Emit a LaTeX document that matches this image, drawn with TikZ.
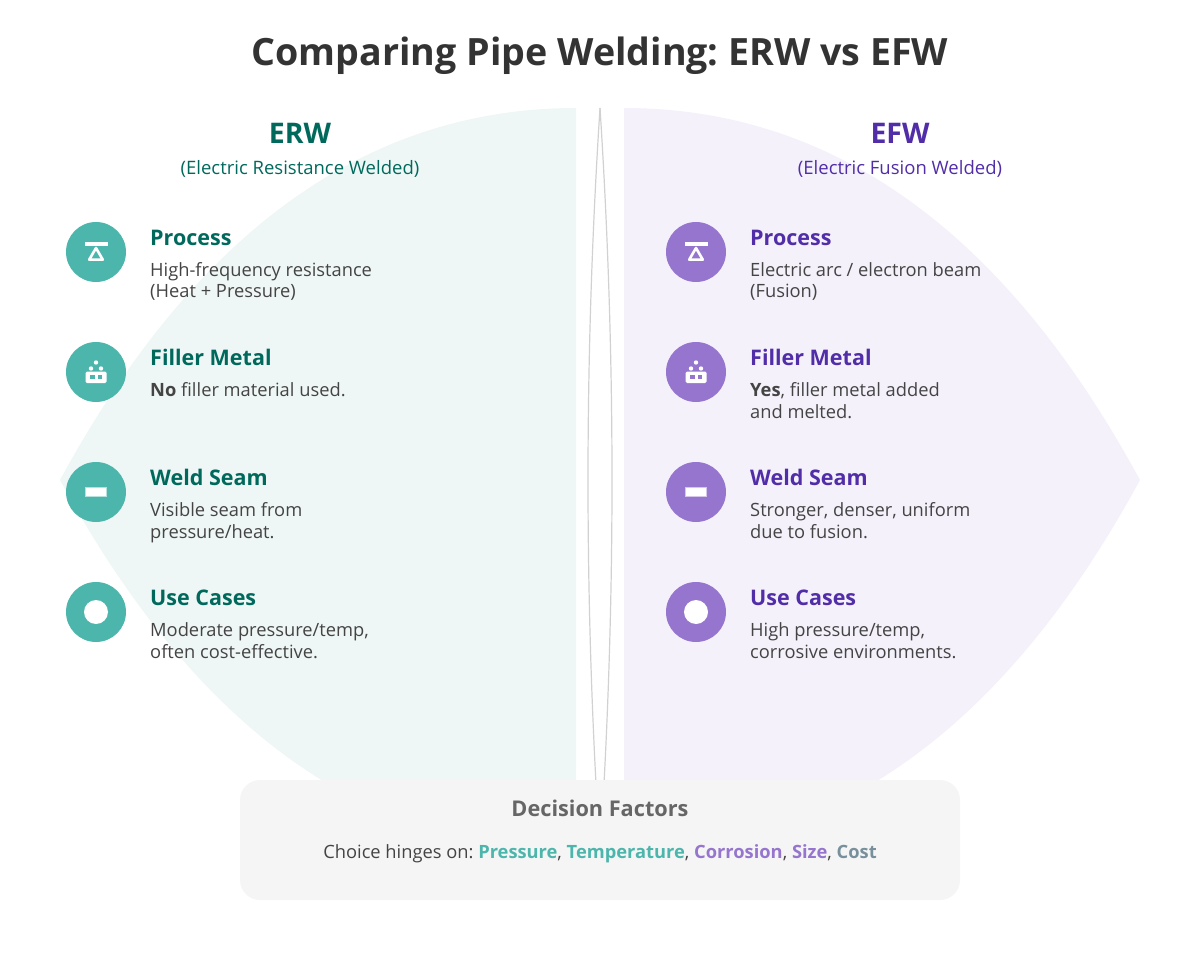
\documentclass[tikz,border=0pt]{standalone}
\usepackage{fontspec}
\setmainfont{Open Sans}
\frenchspacing
\definecolor{erwdark}{HTML}{00695C}
\definecolor{erwmid}{HTML}{4DB6AC}
\definecolor{erwpale}{HTML}{EEF7F5}
\definecolor{efwdark}{HTML}{512DA8}
\definecolor{efwmid}{HTML}{9575CD}
\definecolor{efwpale}{HTML}{F4F1FB}
\definecolor{costcol}{HTML}{78909C}
\definecolor{bodycol}{HTML}{444444}
\tikzset{
  heading/.style={anchor=base,inner sep=0pt,font=\fontsize{28.4}{28.4}\selectfont\bfseries},
  subhead/.style={anchor=base,inner sep=0pt,font=\fontsize{18.5}{18.5}\selectfont},
  rowhead/.style={anchor=base west,inner sep=0pt,font=\fontsize{21.5}{21.5}\selectfont\bfseries},
  rowtext/.style={anchor=base west,inner sep=0pt,text=bodycol,font=\fontsize{18.3}{18.3}\selectfont},
  dot/.style={circle,inner sep=0pt,minimum size=60pt},
  seamicon/.style={fill=white,draw=white,draw opacity=.6,line width=1.6pt}
}
\begin{document}
\begin{tikzpicture}[x=1pt,y=-1pt]
  \useasboundingbox (0,0) rectangle (1200,960);
  \fill[erwpale] (576,108) .. controls (366.7,108) and (194.7,232) .. (60,480) .. controls (194.7,728) and (366.7,852) .. (576,852) -- cycle;
  \fill[efwpale] (624,108) .. controls (833.3,108) and (1005.3,232) .. (1140,480) .. controls (1005.3,728) and (833.3,852) .. (624,852) -- cycle;
  \coordinate (lensTop) at (600,108);
  \coordinate (lensBot) at (600,852);
  \draw[black!18,line width=1.2pt] (lensTop) .. controls (584,356) and (584,604) .. (lensBot);
  \draw[black!18,line width=1.2pt] (lensTop) .. controls (616,356) and (616,604) .. (lensBot);
  \node[anchor=base,inner sep=0pt,text=black!80,font=\fontsize{37.6}{37.6}\selectfont\bfseries] (title) at (600,66) {Comparing Pipe Welding: ERW vs EFW};
  \node[heading,text=erwdark] (erwName) at (300,144) {ERW};
  \node[subhead,text=erwdark] (erwFull) at (300,174.5) {(Electric Resistance Welded)};
  \node[heading,text=efwdark] (efwName) at (900,144) {EFW};
  \node[subhead,text=efwdark] (efwFull) at (900,174.5) {(Electric Fusion Welded)};
  % dots and icons
  \foreach \x/\side/\col in {96/erw/erwmid,696/efw/efwmid}{
    \node[dot,fill=\col] (\side Process) at (\x,252) {};
    \node[dot,fill=\col] (\side Filler) at (\x,372) {};
    \node[dot,fill=\col] (\side Seam) at (\x,492) {};
    \node[dot,fill=\col] (\side Use) at (\x,612) {};
    \fill[white] (\x-11.5,242) rectangle (\x+11.5,246);
    \draw[white,line width=2.6pt,line join=round] (\x,248) -- (\x+6.8,259.7) -- (\x-6.8,259.7) -- cycle;
    \fill[white,rounded corners=1.5pt] (\x-10.5,371.5) rectangle (\x+10.5,383);
    \fill[\col] (\x-6,375) rectangle (\x-1.5,378.5);
    \fill[\col] (\x+1.5,375) rectangle (\x+6,378.5);
    \fill[white] (\x-5,368.5) circle (2.2pt) (\x+5,368.5) circle (2.2pt) (\x,362.5) circle (2.2pt);
    \filldraw[seamicon] (\x-10,488) rectangle (\x+10,496);
    \fill[white] (\x,612) circle (12pt);
  }
  % left texts
  \node[rowhead,text=erwdark] (erwT1) at (150,245.5) {Process};
  \node[rowtext] (erwA1) at (150,276.5) {High-frequency resistance};
  \node[rowtext] (erwB1) at (150,298) {(Heat + Pressure)};
  \node[rowhead,text=erwdark] (erwT2) at (150,365.5) {Filler Metal};
  \node[rowtext] (erwA2) at (150,396) {\textbf{No} filler material used.};
  \node[rowhead,text=erwdark] (erwT3) at (150,485.5) {Weld Seam};
  \node[rowtext] (erwA3) at (150,516) {Visible seam from};
  \node[rowtext] (erwB3) at (150,538) {pressure/heat.};
  \node[rowhead,text=erwdark] (erwT4) at (150,605.5) {Use Cases};
  \node[rowtext] (erwA4) at (150,636) {Moderate pressure/temp,};
  \node[rowtext] (erwB4) at (150,658) {often cost-effective.};
  % right texts
  \node[rowhead,text=efwdark] (efwT1) at (750,245.5) {Process};
  \node[rowtext] (efwA1) at (750,276.5) {Electric arc / electron beam};
  \node[rowtext] (efwB1) at (750,298) {(Fusion)};
  \node[rowhead,text=efwdark] (efwT2) at (750,365.5) {Filler Metal};
  \node[rowtext] (efwA2) at (750,396) {\textbf{Yes}, filler metal added};
  \node[rowtext] (efwB2) at (750,418) {and melted.};
  \node[rowhead,text=efwdark] (efwT3) at (750,485.5) {Weld Seam};
  \node[rowtext] (efwA3) at (750,516) {Stronger, denser, uniform};
  \node[rowtext] (efwB3) at (750,538) {due to fusion.};
  \node[rowhead,text=efwdark] (efwT4) at (750,605.5) {Use Cases};
  \node[rowtext] (efwA4) at (750,636) {High pressure/temp,};
  \node[rowtext] (efwB4) at (750,658) {corrosive environments.};
  % bottom box
  \fill[black!4,rounded corners=20pt] (240,780) rectangle (960,900);
  \node[anchor=base,inner sep=0pt,text=black!60,font=\fontsize{21.7}{21.7}\selectfont\bfseries] (factorHead) at (600,816) {Decision Factors};
  \node[anchor=base,inner sep=0pt,text=bodycol,font=\fontsize{18.3}{18.3}\selectfont] (factorText) at (600,858) {Choice hinges on: \textcolor{erwmid}{\textbf{Pressure}}, \textcolor{erwmid}{\textbf{Temperature}}, \textcolor{efwmid}{\textbf{Corrosion}}, \textcolor{efwmid}{\textbf{Size}}, \textcolor{costcol}{\textbf{Cost}}};
\end{tikzpicture}
\end{document}
